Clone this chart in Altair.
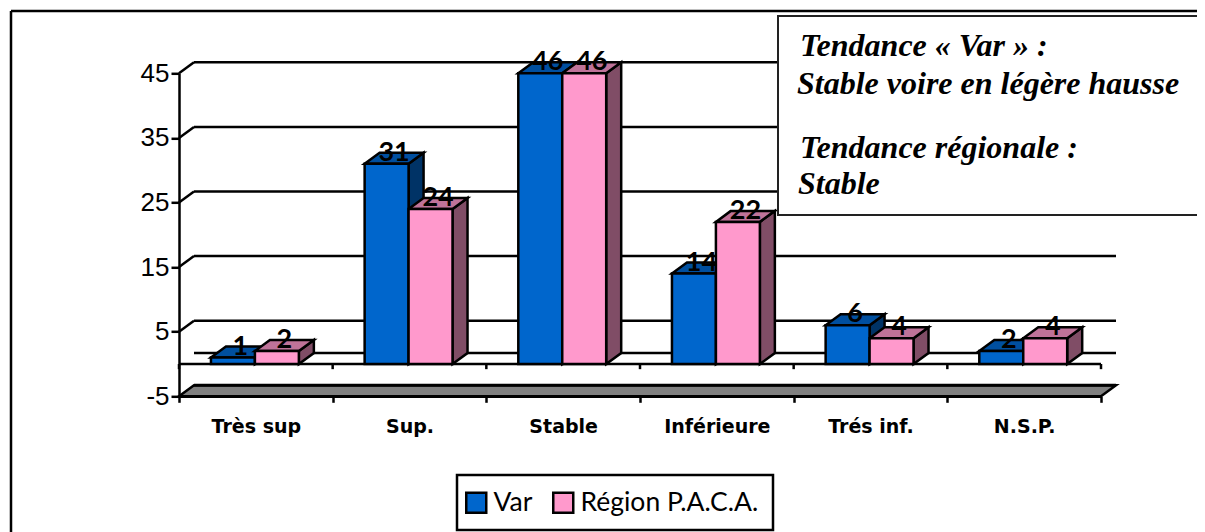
import json
import altair as alt
import pandas as pd

categories = ["Très sup", "Sup.", "Stable", "Inférieure", "Trés inf.", "N.S.P."]
series_names = ["Var", "Région P.A.C.A."]
var_values = [1, 31, 46, 14, 6, 2]
paca_values = [2, 24, 46, 22, 4, 4]
y_ticks = [-5, 5, 15, 25, 35, 45]
grid_levels = [5, 15, 25, 35, 45]
y_min, y_max = -5, 45
front_colors = ["#0066CC", "#FF99CC"]
top_colors = ["#004F9F", "#BF7399"]
side_colors = ["#003366", "#804D66"]
box_lines = [
    ("Tendance « Var » :", 800, 56),
    ("Stable voire en légère hausse", 797, 94),
    ("Tendance régionale :", 800, 158),
    ("Stable", 798, 194),
]

OX, OY = 179, 73.3      # page position of the plot origin
W, H = 922, 323
DX = 15 / (W / 6)       # depth of the 3D effect in data units
DY = 11 / (H / 50)
BW = 0.286
GAP = 0.208
n = len(categories)
LW = 2.5

xs = alt.Scale(domain=[0, n], nice=False, zero=False)
ys = alt.Scale(domain=[y_min, y_max], nice=False, zero=False)
X = lambda f, **k: alt.X(f, type="quantitative", scale=xs, axis=None, title=None, **k)
Y = lambda f, **k: alt.Y(f, type="quantitative", scale=ys, axis=None, title=None, **k)
STROKE = dict(stroke="black", strokeWidth=LW)

px = lambda v: alt.value(v - OX)
py = lambda v: alt.value(v - OY)


def frame(x1, y1, x2, y2, **kw):
    return alt.Chart(pd.DataFrame({"a": [0]})).mark_rect(**kw).encode(
        x=px(x1), x2=px(x2), y=py(y1), y2=py(y2))


def rule(x1, y1, x2, y2, **kw):
    return alt.Chart(pd.DataFrame({"a": [0]})).mark_rule(**kw).encode(
        x=px(x1), x2=px(x2), y=py(y1), y2=py(y2))


layers = []
layers.append(rule(11, 11, 1300, 11, color="black", strokeWidth=2.5))
layers.append(rule(11, 11, 11, 600, color="black", strokeWidth=2.5))

# back wall
grid_df = pd.DataFrame({"v": [g + DY for g in grid_levels] + [DY]})
grid_df["x0"], grid_df["x1"] = DX, n + DX
layers.append(alt.Chart(grid_df).mark_rule(color="black", strokeWidth=LW).encode(
    x=X("x0"), x2="x1", y=Y("v")))
diag = pd.DataFrame(
    [{"g": g, "x": 0, "v": g} for g in grid_levels] + [{"g": g, "x": DX, "v": g + DY} for g in grid_levels])
layers.append(alt.Chart(diag).mark_line(color="black", strokeWidth=LW).encode(
    x=X("x"), y=Y("v"), detail="g:N"))

# floor slab
slab = pd.DataFrame({"v": [y_min, y_min + DY], "x0": [0, DX], "x1": [n, n + DX]})
layers.append(alt.Chart(slab).mark_area(orient="horizontal", fill="#808080", **STROKE).encode(
    x=X("x0"), x2="x1", y=Y("v")))
slab_top = pd.DataFrame({"v": [y_min + DY], "x0": [DX], "x1": [n + DX]})
layers.append(alt.Chart(slab_top).mark_rule(color="black", strokeWidth=3).encode(
    x=X("x0"), x2="x1", y=Y("v")))

# zero line and its ticks
zero = pd.DataFrame({"v": [0], "x0": [0], "x1": [n]})
layers.append(alt.Chart(zero).mark_rule(color="black", strokeWidth=LW).encode(
    x=X("x0"), x2="x1", y=Y("v")))
ztick = pd.DataFrame({"x": list(range(n + 1))})
ztick["a"], ztick["b"] = 0, -0.8
layers.append(alt.Chart(ztick).mark_rule(color="black", strokeWidth=LW).encode(
    x=X("x"), y=Y("a"), y2="b"))

# bars
front_rows, label_rows = [], []
for s, (name, vals) in enumerate(zip(series_names, [var_values, paca_values])):
    side_rows, top_rows = [], []
    for i, v in enumerate(vals):
        h = min(v, y_max)
        a = i + GAP + s * BW
        b = a + BW
        front_rows.append({"series": name, "a": a, "b": b, "h": h, "z": 0})
        side_rows += [{"k": i, "x": b, "t": h, "u": 0},
                      {"k": i, "x": b + DX, "t": h + DY, "u": DY}]
        top_rows += [{"k": i, "y": h, "p": a, "q": b},
                     {"k": i, "y": h + DY, "p": a + DX, "q": b + DX}]
        label_rows.append({"x": (a + b) / 2 + DX / 2, "y": h + DY, "t": str(v)})
    layers.append(alt.Chart(pd.DataFrame(side_rows)).mark_area(fill=side_colors[s], **STROKE).encode(
        x=X("x"), y=Y("t"), y2="u", detail="k:N"))
    layers.append(alt.Chart(pd.DataFrame(top_rows)).mark_area(orient="horizontal", fill=top_colors[s], **STROKE).encode(
        x=X("p"), x2="q", y=Y("y"), detail="k:N"))

layers.append(frame(457, 475, 773, 530, fill="white", stroke="black", strokeWidth=2.5))

layers.append(alt.Chart(pd.DataFrame(front_rows)).mark_rect(opacity=1, **STROKE).encode(
    x=X("a"), x2="b", y=Y("h"), y2="z",
    color=alt.Color("series:N", scale=alt.Scale(domain=series_names, range=front_colors),
                    legend=alt.Legend(orient="none", legendX=463 - OX, legendY=489 - OY, direction="horizontal",
                                      columns=2, title=None, symbolType="square", symbolSize=400,
                                      symbolStrokeColor="black", symbolStrokeWidth=2.5, symbolOpacity=1,
                                      labelFont="Lato", labelFontSize=26.5, labelColor="black", labelLimit=400,
                                      labelOffset=4, columnPadding=15, padding=0)),
))

layers.append(alt.Chart(pd.DataFrame(label_rows)).mark_text(
    font="Lato", fontWeight="bold", fontSize=27, color="black", baseline="middle").encode(
    x=X("x"), y=Y("y"), text="t:N"))

# real axes
y_axis = alt.Axis(values=y_ticks, tickSize=8, tickWidth=LW, tickColor="black", domainColor="black", domainWidth=LW,
                  labelFont="Liberation Sans", labelFontSize=26, labelColor="black", labelPadding=2,
                  labelExpr="'' + datum.value", grid=False, title=None, orient="left")
x_axis_ticks = alt.Axis(values=list(range(n + 1)), tickSize=6, tickWidth=LW, tickColor="black",
                        domainColor="black", domainWidth=LW, labels=False, grid=False, title=None, orient="bottom")
names = json.dumps(categories, ensure_ascii=False)
x_axis_labels = alt.Axis(values=[i + 0.5 for i in range(n)], ticks=False, domain=False, grid=False, title=None,
                         labelExpr=f"{names}[round(datum.value - 0.5)]", labelFont="DejaVu Sans",
                         labelFontWeight="bold", labelFontSize=19, labelColor="black", labelPadding=21,
                         labelOverlap=False, labelFlush=False, labelBound=False, orient="bottom")
base = pd.DataFrame({"x": [0, n], "y": [y_min, y_max]})
layers.append(alt.Chart(base).mark_point(opacity=0).encode(
    x=alt.X("x:Q", scale=xs, axis=x_axis_ticks), y=alt.Y("y:Q", scale=ys, axis=y_axis)))
layers.append(alt.Chart(base).mark_point(opacity=0).encode(
    x=alt.X("x:Q", scale=xs, axis=x_axis_labels), y=alt.Y("y:Q", scale=ys, axis=None)))

# text box
layers.append(frame(778, 16, 1300, 215, fill="white", stroke="#222222", strokeWidth=2))
for t, x, y in box_lines:
    layers.append(alt.Chart(pd.DataFrame({"t": [t]})).mark_text(
        font="Liberation Serif", fontStyle="italic", fontWeight="bold", fontSize=32, color="black",
        align="left", baseline="alphabetic").encode(x=px(x), y=py(y), text="t:N"))

chart = alt.layer(*layers).resolve_axis(x="independent", y="independent").properties(
    width=W, height=H,
    padding={"left": OX - 8, "top": OY - 8, "right": 1189 - (OX - 8) - W, "bottom": 524 - (OY - 8) - H},
    autosize=alt.AutoSizeParams(type="none"),
    background="white",
).configure_view(stroke=None)

chart.save("out.html", embed_options={"renderer": "svg", "actions": False})
